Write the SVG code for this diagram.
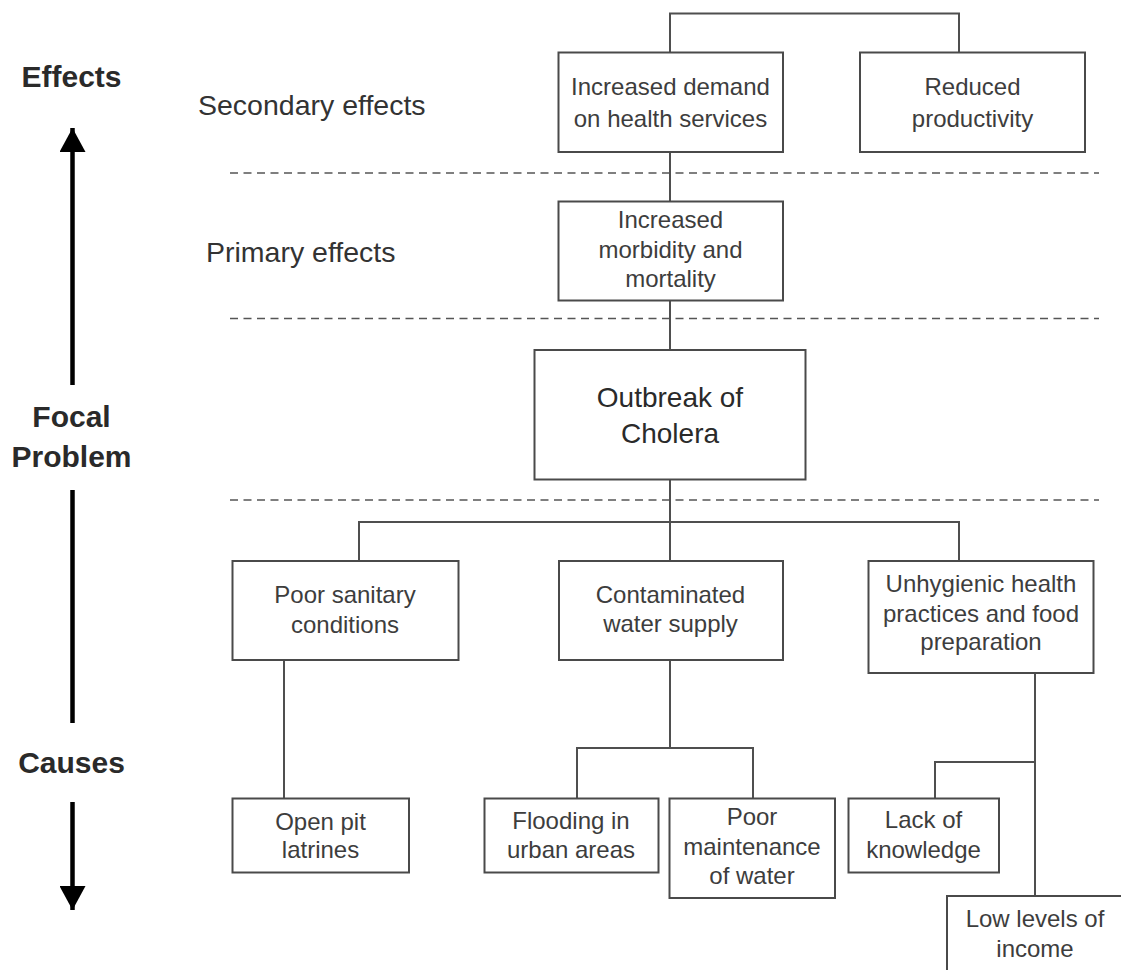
<svg xmlns="http://www.w3.org/2000/svg" width="1121" height="970" viewBox="0 0 1121 970">
<style>
.bg{fill:#ffffff}
.box{fill:#ffffff;stroke:#4a4a4a;stroke-width:2}
.con{fill:none;stroke:#4f4f4f;stroke-width:2}
.dash{fill:none;stroke:#555;stroke-width:1.6;stroke-dasharray:8 5.5}
.t{font-family:"Liberation Sans",Arial,sans-serif;font-size:24px;fill:#3d3d3d;text-anchor:middle}
.big{font-family:"Liberation Sans",Arial,sans-serif;font-size:28px;fill:#2a2a2a;text-anchor:middle}
.lvl{font-family:"Liberation Sans",Arial,sans-serif;font-size:28.5px;fill:#333}
.side{font-family:"Liberation Sans",Arial,sans-serif;font-size:30px;font-weight:bold;fill:#2a2a2a;text-anchor:middle}
.axis{fill:none;stroke:#000;stroke-width:4.5}
</style>
<defs>
<marker id="ah" viewBox="0 0 24 26" markerWidth="24" markerHeight="26" refX="24" refY="13" orient="auto" markerUnits="userSpaceOnUse">
<path d="M0,0 L24,13 L0,26 Z" fill="#000"/>
</marker>
</defs>
<rect class="bg" x="0" y="0" width="1121" height="970"/>

<g id="axis">
<text class="side" x="71.5" y="87">Effects</text>
<line class="axis" x1="72.5" y1="385" x2="72.5" y2="128" marker-end="url(#ah)"/>
<text class="side" x="71.5" y="427">Focal</text>
<text class="side" x="71.5" y="467">Problem</text>
<line class="axis" x1="72.5" y1="490" x2="72.5" y2="723"/>
<text class="side" x="71.5" y="773">Causes</text>
<line class="axis" x1="72.5" y1="802" x2="72.5" y2="910" marker-end="url(#ah)"/>
</g>

<g id="levels">
<text class="lvl" x="198" y="115">Secondary effects</text>
<text class="lvl" x="206" y="262">Primary effects</text>
<line class="dash" x1="230" y1="173" x2="1099" y2="173"/>
<line class="dash" x1="230" y1="318.5" x2="1099" y2="318.5"/>
<line class="dash" x1="230" y1="500" x2="1099" y2="500"/>
</g>

<g id="connectors">
<path class="con" d="M670,52 V13.5 H959 V52"/>
<path class="con" d="M670,152 V201"/>
<path class="con" d="M670,301 V350"/>
<path class="con" d="M670,479 V561"/>
<path class="con" d="M359,561 V522 H959 V561"/>
<path class="con" d="M284,660 V798"/>
<path class="con" d="M670,660 V748"/>
<path class="con" d="M577,798 V748 H753 V798"/>
<path class="con" d="M1035,673 V896"/>
<path class="con" d="M935,798 V762 H1035"/>
</g>

<g id="n-demand">
<rect class="box" x="558.5" y="52.5" width="224.5" height="99.5"/>
<text class="t" x="670.5" y="95">Increased demand</text>
<text class="t" x="670.5" y="126.5">on health services</text>
</g>
<g id="n-productivity">
<rect class="box" x="860" y="52.5" width="225" height="99.5"/>
<text class="t" x="972.5" y="95">Reduced</text>
<text class="t" x="972.5" y="126.5">productivity</text>
</g>
<g id="n-morbidity">
<rect class="box" x="558.5" y="201.5" width="224.5" height="99"/>
<text class="t" x="670.5" y="228">Increased</text>
<text class="t" x="670.5" y="258">morbidity and</text>
<text class="t" x="670.5" y="287">mortality</text>
</g>
<g id="n-cholera">
<rect class="box" x="534.5" y="350" width="271" height="129.5"/>
<text class="big" x="670" y="407">Outbreak of</text>
<text class="big" x="670" y="443">Cholera</text>
</g>
<g id="n-sanitary">
<rect class="box" x="232.5" y="561" width="226" height="99"/>
<text class="t" x="345" y="603">Poor sanitary</text>
<text class="t" x="345" y="633">conditions</text>
</g>
<g id="n-water">
<rect class="box" x="559" y="561" width="224" height="99"/>
<text class="t" x="670.5" y="603">Contaminated</text>
<text class="t" x="670.5" y="632">water supply</text>
</g>
<g id="n-hygiene">
<rect class="box" x="868.5" y="561" width="225" height="112"/>
<text class="t" x="981" y="592">Unhygienic health</text>
<text class="t" x="981" y="622">practices and food</text>
<text class="t" x="981" y="650">preparation</text>
</g>
<g id="n-latrines">
<rect class="box" x="232.5" y="798.5" width="176.5" height="74"/>
<text class="t" x="320.5" y="830">Open pit</text>
<text class="t" x="320.5" y="858">latrines</text>
</g>
<g id="n-flooding">
<rect class="box" x="484.5" y="798.5" width="174" height="74"/>
<text class="t" x="571" y="829">Flooding in</text>
<text class="t" x="571" y="858">urban areas</text>
</g>
<g id="n-maintenance">
<rect class="box" x="669.5" y="798.5" width="165.5" height="99.5"/>
<text class="t" x="752" y="825">Poor</text>
<text class="t" x="752" y="855">maintenance</text>
<text class="t" x="752" y="884">of water</text>
</g>
<g id="n-knowledge">
<rect class="box" x="848.5" y="798.5" width="150.5" height="74"/>
<text class="t" x="923.5" y="828">Lack of</text>
<text class="t" x="923.5" y="858">knowledge</text>
</g>
<g id="n-income">
<rect class="box" x="947" y="896" width="180" height="80"/>
<text class="t" x="1035" y="927">Low levels of</text>
<text class="t" x="1035" y="957">income</text>
</g>
</svg>
